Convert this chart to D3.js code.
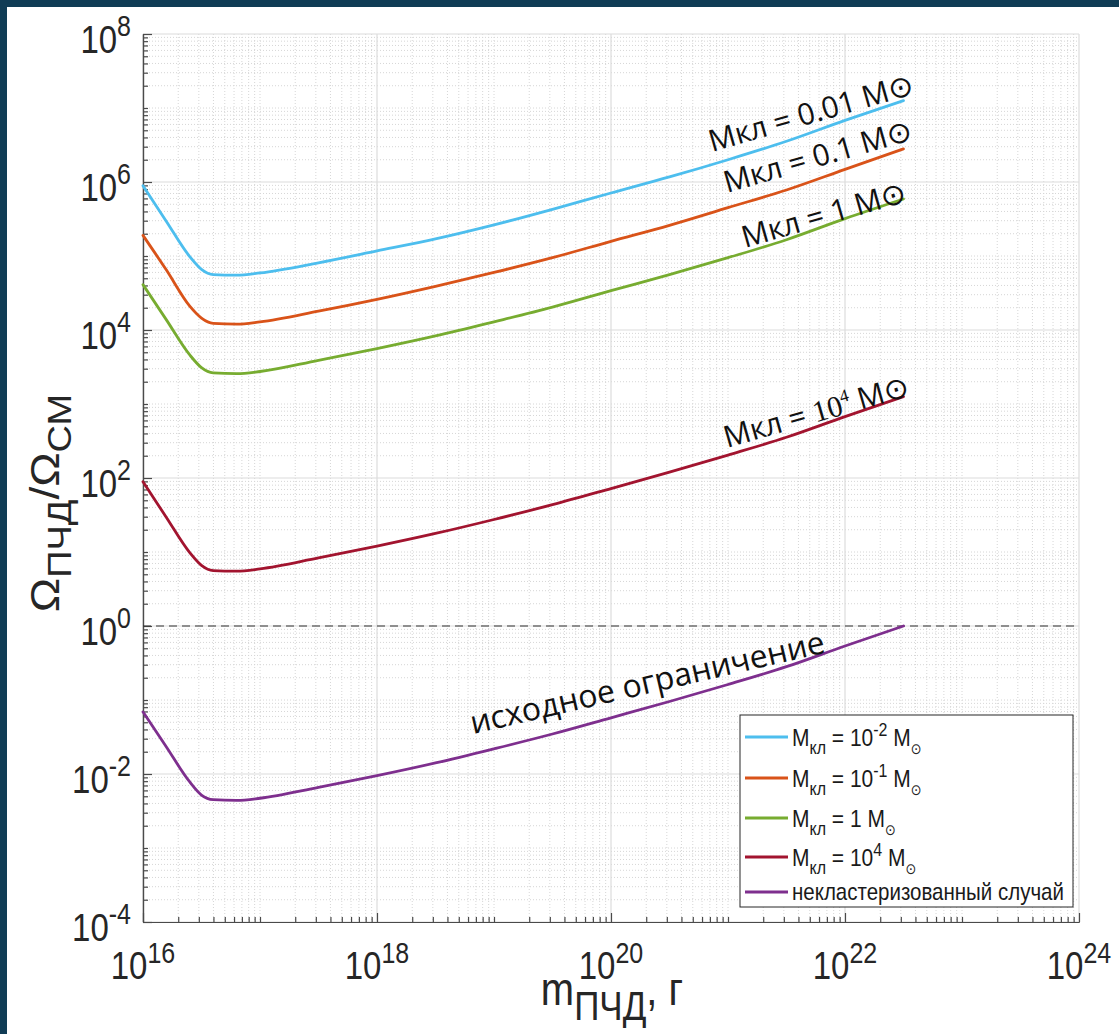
<!DOCTYPE html>
<html>
<head>
<meta charset="utf-8">
<script src="https://cdn.jsdelivr.net/npm/d3@7"></script>
<style>
  body { margin: 0; background: #ffffff; }
  svg { display: block; }
  text { white-space: pre; }
</style>
</head>
<body>
<svg id="chart" width="1119" height="1034"></svg>
<script>
// PBH mass, grams (shared abscissa of all curves)
const massGrams = [1e16, 1.58e16, 2.51e16, 3.16e16, 3.98e16, 6.31e16, 1e17, 3.16e17, 1e18,
  3.16e18, 1e19, 3.16e19, 1e20, 3.16e20, 1e21, 3.16e21, 1e22, 3.16e22];

// Omega_PBH / Omega_DM bound for each cluster mass
const omegaCl001 = [8.9e5, 2.95e5, 9.8e4, 6.6e4, 5.6e4, 5.5e4, 5.9e4, 8.1e4, 1.17e5,
  1.7e5, 2.63e5, 4.27e5, 7.1e5, 1.17e6, 2.0e6, 3.55e6, 6.8e6, 1.26e7];
const omegaCl01 = [1.9e5, 6.5e4, 2.1e4, 1.45e4, 1.23e4, 1.2e4, 1.29e4, 1.8e4, 2.6e4,
  3.9e4, 6.0e4, 9.5e4, 1.58e5, 2.6e5, 4.5e5, 7.8e5, 1.48e6, 2.8e6];
const omegaCl1 = [4.1e4, 1.38e4, 4.6e3, 3.1e3, 2.63e3, 2.57e3, 2.75e3, 3.9e3, 5.6e3,
  8.3e3, 1.29e4, 2.04e4, 3.4e4, 5.6e4, 9.5e4, 1.66e5, 3.2e5, 5.9e5];
const omegaCl1e4 = [89, 29.5, 9.8, 6.6, 5.6, 5.5, 5.9, 8.3, 12,
  17.8, 27.5, 43.6, 72, 120, 204, 355, 676, 1260];
const omegaUnclustered = [0.069, 0.0234, 0.0078, 0.0052, 0.0045, 0.0044, 0.0047, 0.0066, 0.0095,
  0.0141, 0.0219, 0.0347, 0.0575, 0.0955, 0.162, 0.282, 0.537, 1.0];

const seriesColors = ["#4DBEEE", "#D95319", "#77AC30", "#A2142F", "#7E2F8E"];
const xTickExponents = [16, 18, 20, 22, 24];
const yTickExponents = [-4, -2, 0, 2, 4, 6, 8];
const referenceLevel = 1;

const series = [omegaCl001, omegaCl01, omegaCl1, omegaCl1e4, omegaUnclustered]
  .map((vals, i) => ({ color: seriesColors[i], points: massGrams.map((m, j) => [m, vals[j]]) }));

// Legend entries
const legendEntries = [
  { kind: "pow", base: "10", exp: "-2" },
  { kind: "pow", base: "10", exp: "-1" },
  { kind: "plain", base: "1" },
  { kind: "pow", base: "10", exp: "4" },
  { kind: "text", text: "некластеризованный случай" }
];

const svg = d3.select("#chart");
const W = 1119, H = 1034;
const P = { left: 143, right: 1079, top: 34, bottom: 922 };
const sans = "'Liberation Sans', Arial, Helvetica, sans-serif";
const annoFont = "'Open Sans', 'Noto Sans', sans-serif";
const textColor = "#262626";
const STRETCH = 1.15;

// frame
svg.append("rect").attr("width", W).attr("height", H).attr("fill", "#103c55");
svg.append("rect").attr("x", 7).attr("y", 7).attr("width", W - 7).attr("height", H - 7).attr("fill", "#ffffff");

const x = d3.scaleLog().domain([1e16, 1e24]).range([P.left, P.right]);
const y = d3.scaleLog().domain([1e-4, 1e8]).range([P.bottom, P.top]);

const xMajor = xTickExponents.map(e => Math.pow(10, e));
const yMajor = yTickExponents.map(e => Math.pow(10, e));
const xMinor = [], yMinor = [];
for (let n = 16; n < 24; n++) for (let k = 1; k <= 9; k++) {
  if (k === 1 && n % 2 === 0) continue;
  xMinor.push(k * Math.pow(10, n));
}
for (let n = -4; n < 8; n++) for (let k = 1; k <= 9; k++) {
  if (k === 1 && n % 2 === 0) continue;
  yMinor.push(k * Math.pow(10, n));
}

// grid
const grid = svg.append("g");
grid.selectAll(".gxm").data(xMinor).join("line")
  .attr("x1", d => x(d)).attr("x2", d => x(d)).attr("y1", P.top).attr("y2", P.bottom)
  .attr("stroke", "#d6d6d6").attr("stroke-width", 1).attr("stroke-dasharray", "1,2");
grid.selectAll(".gym").data(yMinor).join("line")
  .attr("y1", d => y(d)).attr("y2", d => y(d)).attr("x1", P.left).attr("x2", P.right)
  .attr("stroke", "#d6d6d6").attr("stroke-width", 1).attr("stroke-dasharray", "1,2");
grid.selectAll(".gxM").data(xMajor).join("line")
  .attr("x1", d => x(d)).attr("x2", d => x(d)).attr("y1", P.top).attr("y2", P.bottom)
  .attr("stroke", "#dcdcdc").attr("stroke-width", 1.2);
grid.selectAll(".gyM").data(yMajor).join("line")
  .attr("y1", d => y(d)).attr("y2", d => y(d)).attr("x1", P.left).attr("x2", P.right)
  .attr("stroke", "#dcdcdc").attr("stroke-width", 1.2);

// axes (ticks point inward)
function styleAxis(g) {
  g.selectAll("path,line").attr("stroke", "#4a4a4a").attr("stroke-width", 1.2);
}
svg.append("g").attr("transform", `translate(0,${P.bottom})`)
  .call(d3.axisBottom(x).tickValues(xMinor).tickSize(-5).tickSizeOuter(0).tickFormat(""))
  .call(styleAxis);
svg.append("g").attr("transform", `translate(0,${P.bottom})`)
  .call(d3.axisBottom(x).tickValues(xMajor).tickSize(-9).tickSizeOuter(0).tickFormat(""))
  .call(styleAxis);
svg.append("g").attr("transform", `translate(${P.left},0)`)
  .call(d3.axisLeft(y).tickValues(yMinor).tickSize(-5).tickSizeOuter(0).tickFormat(""))
  .call(styleAxis);
svg.append("g").attr("transform", `translate(${P.left},0)`)
  .call(d3.axisLeft(y).tickValues(yMajor).tickSize(-9).tickSizeOuter(0).tickFormat(""))
  .call(styleAxis);

// rich text helper: segments with size and baseline shift (positive = down)
function rich(parent, tx, ty, segs, opts = {}) {
  const g = parent.append("g").attr("transform", `translate(${tx},${ty}) ${opts.extra || ""}`);
  const t = g.append("text")
    .attr("text-anchor", opts.anchor || "start")
    .attr("font-family", opts.family || sans)
    .attr("fill", opts.fill || textColor);
  let cur = 0;
  segs.forEach(s => {
    const sh = s.shift || 0;
    const ts = t.append("tspan").text(s.t).attr("font-size", s.size).attr("dy", sh - cur);
    if (s.family) ts.attr("font-family", s.family);
    cur = sh;
  });
  return t;
}

// tick labels
xTickExponents.forEach(e => {
  rich(svg, x(Math.pow(10, e)), P.bottom + 57, [
    { t: "10", size: 33 }, { t: String(e), size: 25, shift: -14 }
  ], { anchor: "middle", extra: `scale(1,${STRETCH})` });
});
yTickExponents.forEach(e => {
  rich(svg, 131, y(Math.pow(10, e)) + 19, [
    { t: "10", size: 33 }, { t: String(e), size: 25, shift: -15 }
  ], { anchor: "end", extra: `scale(1,${STRETCH})` });
});

// axis titles
rich(svg, 612, 1005, [
  { t: "m", size: 40 }, { t: "ПЧД", size: 35, shift: 13 }, { t: ", г", size: 40, shift: 0 }
], { anchor: "middle", extra: `scale(1,${STRETCH})` });
rich(svg, 59, 503, [
  { t: "Ω", size: 40 }, { t: "ПЧД", size: 33, shift: 12 }, { t: "/Ω", size: 40, shift: 0 },
  { t: "СМ", size: 33, shift: 12 }
], { anchor: "middle", extra: `scale(1,${STRETCH}) rotate(-90)` });

// reference level
svg.append("line")
  .attr("x1", x(1e16)).attr("x2", x(1e24)).attr("y1", y(referenceLevel)).attr("y2", y(referenceLevel))
  .attr("stroke", "#333333").attr("stroke-width", 1.2).attr("stroke-dasharray", "8,5");

// curves
const line = d3.line().x(d => x(d[0])).y(d => y(d[1])).curve(d3.curveMonotoneX);
svg.append("g").selectAll("path").data(series).join("path")
  .attr("d", d => line(d.points))
  .attr("fill", "none").attr("stroke", d => d.color)
  .attr("stroke-width", 2.8).attr("stroke-linejoin", "round").attr("stroke-linecap", "round");

// inline curve labels
const annoSize = 30;
const sym = "'DejaVu Sans', sans-serif";
const serif = "'Liberation Serif', 'Times New Roman', serif";
const annotations = [
  { x: 712, y: 152, a: -16, segs: [{ t: "Mкл = 0.01 M" }, { t: "⊙", family: sym }] },
  { x: 727, y: 193, a: -16, segs: [{ t: "Mкл = 0.1 M" }, { t: "⊙", family: sym }] },
  { x: 745, y: 248, a: -16, segs: [{ t: "Mкл = 1 M" }, { t: "⊙", family: sym }] },
  { x: 727, y: 448, a: -16, segs: [{ t: "Mкл = " }, { t: "10", family: serif },
    { t: "4", family: serif, size: 18, shift: -12 },
    { t: " M", shift: 0 }, { t: "⊙", family: sym }] },
  { x: 473, y: 734, a: -13, segs: [{ t: "исходное ограничение", size: 32 }] }
];
annotations.forEach(an => {
  rich(svg, an.x, an.y, an.segs.map(s => ({ t: s.t, size: s.size || annoSize, shift: s.shift || 0, family: s.family })),
    { family: annoFont, fill: "#111111", extra: `rotate(${an.a})` });
});

// legend
const lg = svg.append("g");
lg.append("rect").attr("x", 740).attr("y", 715).attr("width", 333).attr("height", 192)
  .attr("fill", "#ffffff").attr("stroke", "#262626").attr("stroke-width", 1);
const legendY = [737, 778, 818, 857, 892];
legendEntries.forEach((en, i) => {
  const ly = legendY[i];
  lg.append("line").attr("x1", 745).attr("x2", 788).attr("y1", ly).attr("y2", ly)
    .attr("stroke", seriesColors[i]).attr("stroke-width", 2.8);
  let segs;
  if (en.kind === "text") {
    segs = [{ t: en.text, size: 20.5 }];
  } else {
    segs = [{ t: "M", size: 21 }, { t: "кл", size: 16, shift: 7 }, { t: " = " + en.base, size: 21, shift: 0 }];
    if (en.kind === "pow") segs.push({ t: en.exp, size: 16, shift: -9 });
    segs.push({ t: " M", size: 21, shift: 0 }, { t: "⊙", size: 13, shift: 7, family: sym });
  }
  rich(lg, 792, ly + (en.kind === "text" ? 8 : 9), segs, { extra: `scale(1,${STRETCH})`, fill: "#1a1a1a" });
});
</script>
</body>
</html>
